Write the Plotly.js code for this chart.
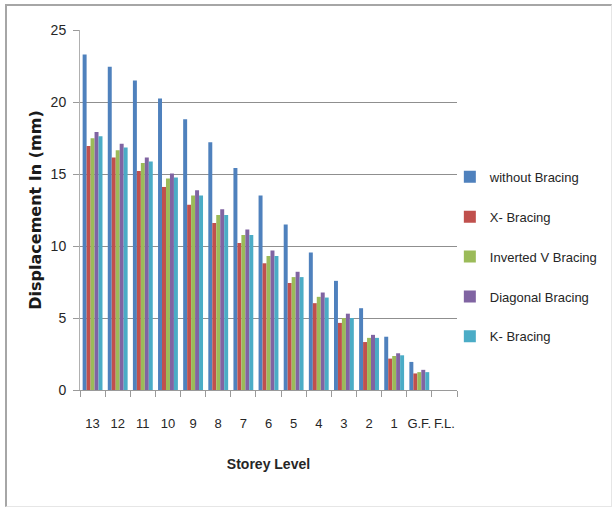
<!DOCTYPE html>
<html>
<head>
<meta charset="utf-8">
<script src="https://cdn.plot.ly/plotly-3.0.1.min.js"></script>
<style>
html,body{margin:0;padding:0;background:#fff;}
#wrap{position:relative;width:612px;height:508px;overflow:hidden;}
#chart{position:absolute;left:0;top:0;width:612px;height:508px;}
#frame{position:absolute;left:5px;top:4px;width:604px;height:500px;border-left:2px solid #a6a6a6;border-top:2px solid #a6a6a6;border-right:1px solid #e6e6e6;border-bottom:1px solid #e6e6e6;pointer-events:none;}
</style>
</head>
<body>
<div id="wrap"><div id="chart"></div><div id="frame"></div></div>
<script>
var storeys = ["13","12","11","10","9","8","7","6","5","4","3","2","1","G.F.","F.L."];
var withoutBracing = [23.3, 22.45, 21.5, 20.25, 18.8, 17.2, 15.42, 13.5, 11.5, 9.55, 7.58, 5.68, 3.7, 1.95, 0];
var xBracing       = [16.95, 16.15, 15.2, 14.1, 12.87, 11.6, 10.2, 8.8, 7.43, 6.03, 4.66, 3.33, 2.18, 1.15, 0];
var invertedV      = [17.48, 16.65, 15.77, 14.68, 13.5, 12.15, 10.76, 9.3, 7.84, 6.47, 5.0, 3.62, 2.36, 1.24, 0];
var diagonal       = [17.92, 17.1, 16.15, 15.03, 13.87, 12.55, 11.15, 9.69, 8.21, 6.77, 5.3, 3.83, 2.55, 1.4, 0];
var kBracing       = [17.62, 16.84, 15.86, 14.75, 13.5, 12.15, 10.76, 9.3, 7.84, 6.42, 5.0, 3.62, 2.41, 1.24, 0];

var seriesNames  = ["without Bracing", "X- Bracing", "Inverted V Bracing", "Diagonal Bracing", "K- Bracing"];
var seriesValues = [withoutBracing, xBracing, invertedV, diagonal, kBracing];
var seriesColors = ["#4F81BD", "#C0504D", "#9BBB59", "#8064A2", "#4BACC6"];

var narrow = "Liberation Sans, Arial, sans-serif";

var traces = seriesNames.map(function(n, i){
  return {
    type: "bar",
    name: n,
    x: storeys,
    y: seriesValues[i],
    legendgroup: "g" + i,
    marker: {color: seriesColors[i], line: {width: 0}}
  };
});

var layout = {
  width: 612, height: 508,
  margin: {l: 80, r: 155, t: 30, b: 118, autoexpand: false},
  paper_bgcolor: "#ffffff",
  plot_bgcolor: "#ffffff",
  barmode: "group",
  bargap: 0.21,
  bargroupgap: 0,
  showlegend: true,
  legend: {
    x: 0.981, xanchor: "left",
    y: 0.37, yanchor: "middle",
    font: {family: narrow, size: 13, color: "#262626"},
    tracegroupgap: 20,
    itemwidth: 30,
    bgcolor: "rgba(0,0,0,0)"
  },
  xaxis: {
    type: "category",
    tickson: "boundaries",
    ticks: "outside",
    ticklen: 6,
    tickcolor: "#9a9a9a",
    tickangle: 0,
    showline: true,
    linecolor: "#9a9a9a",
    linewidth: 1,
    showgrid: false,
    zeroline: false,
    tickfont: {family: narrow, size: 13, color: "#262626"},
    ticklabelstandoff: 21,
    title: {text: "<b>Storey Level</b>", font: {family: narrow, size: 14, color: "#262626"}, standoff: 29}
  },
  yaxis: {
    range: [0, 25],
    dtick: 5,
    ticks: "outside",
    ticklen: 6,
    tickcolor: "#9a9a9a",
    showline: true,
    linecolor: "#b0b0b0",
    linewidth: 1,
    showgrid: true,
    gridcolor: "#8f8f8f",
    gridwidth: 1,
    zeroline: false,
    tickfont: {family: narrow, size: 14, color: "#262626"},
    ticklabelstandoff: 4,
    title: {text: "<b>Displacement In (mm)</b>", font: {family: "DejaVu Sans, Verdana, sans-serif", size: 16, color: "#1a1a1a"}, standoff: 5}
  }
};

Plotly.newPlot("chart", traces, layout, {displayModeBar: false, staticPlot: true});
</script>
</body>
</html>
